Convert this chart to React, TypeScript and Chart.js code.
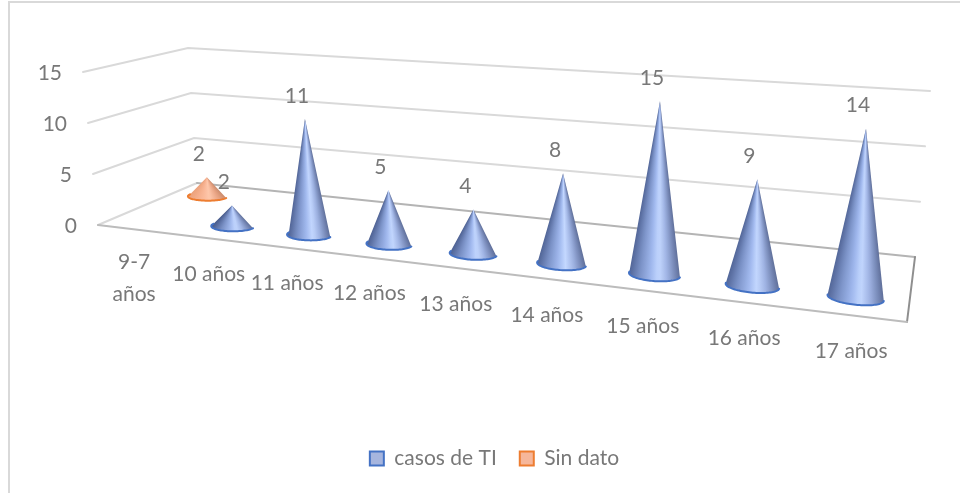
import React, { useEffect, useRef } from "react";
import { Chart, registerables } from "chart.js";

Chart.register(...registerables);

const categories: (string | string[])[] = ["9-7 años".split(" "), "10 años", "11 años", "12 años", "13 años", "14 años", "15 años", "16 años", "17 años"];
const casosDeTI: (number | null)[] = [null, 2, 11, 5, 4, 8, 15, 9, 14];
const sinDato: (number | null)[] = [2, null, null, null, null, null, null, null, null];
const yTicks = [0, 5, 10, 15];

const FONT = "Lato, Carlito, Calibri, sans-serif";
const TEXT = "#787878";
const SIZE = 21;

type P = [number, number];
// Camera of the 3D box: floor corners and the screen vector of the full value axis at each corner.
const floorQuad: P[] = [[98, 225], [907, 322], [915, 257], [197, 183]];
const riseVectors: P[] = [[-15, -153], [12, -189], [15, -166], [-9, -135]];

function homography(q: P[]) {
  const [[x0, y0], [x1, y1], [x2, y2], [x3, y3]] = q;
  const dx1 = x1 - x2, dx2 = x3 - x2, sx = x0 - x1 + x2 - x3;
  const dy1 = y1 - y2, dy2 = y3 - y2, sy = y0 - y1 + y2 - y3;
  const den = dx1 * dy2 - dx2 * dy1;
  const g = (sx * dy2 - dx2 * sy) / den;
  const h = (dx1 * sy - sx * dy1) / den;
  const a = x1 - x0 + g * x1, b = x3 - x0 + h * x3;
  const d = y1 - y0 + g * y1, e = y3 - y0 + h * y3;
  return (u: number, v: number): P => {
    const w = g * u + h * v + 1;
    return [(a * u + b * v + x0) / w, (d * u + e * v + y0) / w];
  };
}
const floorH = homography(floorQuad);
function project(u: number, depth: number, height: number): P {
  const f = floorH(u, depth);
  const [a, b, c, d] = riseVectors;
  const mix = (k: 0 | 1) => (a[k] * (1 - u) + b[k] * u) * (1 - depth) + (d[k] * (1 - u) + c[k] * u) * depth;
  return [f[0] + mix(0) * height, f[1] + mix(1) * height];
}

const DEPTH = [0.25, 0.75];
const RADIUS_DEPTH = 0.1;
type Stop = [number, number, number, number];
const RAMPS: Stop[][] = [
  [[0, 84, 104, 154], [0.2, 124, 147, 200], [0.42, 160, 184, 238], [0.58, 196, 216, 255], [0.75, 160, 180, 228], [0.92, 116, 134, 180], [1, 96, 112, 154]],
  [[0, 238, 165, 128], [0.3, 249, 182, 150], [0.55, 254, 200, 172], [0.8, 234, 165, 133], [1, 204, 140, 110]],
];
const RIM = ["#4472c4", "#ed7d31"];

function ramp(stops: Stop[], s: number) {
  for (let i = 1; i < stops.length; i++) {
    if (s <= stops[i][0]) {
      const a = stops[i - 1], b = stops[i];
      const t = (s - a[0]) / (b[0] - a[0]);
      const c = [1, 2, 3].map((k) => Math.round(a[k] + (b[k] - a[k]) * t));
      return `rgb(${c[0]},${c[1]},${c[2]})`;
    }
  }
  const l = stops[stops.length - 1];
  return `rgb(${l[1]},${l[2]},${l[3]})`;
}

function line(ctx: CanvasRenderingContext2D, pts: P[], color: string, width: number) {
  ctx.beginPath();
  pts.forEach((p, i) => (i ? ctx.lineTo(p[0], p[1]) : ctx.moveTo(p[0], p[1])));
  ctx.strokeStyle = color;
  ctx.lineWidth = width;
  ctx.stroke();
}

const frame = {
  id: "frame",
  beforeDraw(chart: any) {
    const { ctx, width, height } = chart;
    ctx.save();
    ctx.fillStyle = "#ffffff";
    ctx.fillRect(0, 0, width, height);
    ctx.strokeStyle = "#d9d9d9";
    ctx.lineWidth = 2;
    ctx.beginPath();
    ctx.moveTo(9, height);
    ctx.lineTo(9, 2);
    ctx.lineTo(width, 2);
    ctx.stroke();
    ctx.restore();
    // Tick labels stay the scales' own, moved onto the slanted edges of the box.
    const { x, y } = chart.scales;
    const area = chart.chartArea;
    const lh = x.options.ticks.font.lineHeight * SIZE;
    x.getLabelItems(area).forEach((item: any, i: number) => {
      const p = project((x.getPixelForTick(i) - area.left) / area.width, 0, 0);
      item.options.translation = [p[0], p[1] + 36 - lh / 2 - (Array.isArray(item.label) ? 3 : 0)];
    });
    y.getLabelItems(area).forEach((item: any, i: number) => {
      const h = (area.bottom - y.getPixelForTick(i)) / area.height;
      const p = project(0, 0, h);
      item.options.translation = [p[0] - 21, p[1] + 1];
    });
  },
};

const cones = {
  id: "cones",
  beforeDatasetsDraw(chart: any) {
    const { ctx, chartArea: area } = chart;
    const yScale = chart.scales.y;
    ctx.save();
    ctx.lineCap = "round";
    // walls
    yScale.ticks.forEach((t: any) => {
      const h = (area.bottom - yScale.getPixelForValue(t.value)) / area.height;
      if (h === 0) return;
      line(ctx, [project(0, 0, h), project(0, 1, h), project(1, 1, h)], "#d9d9d9", 2);
    });
    // floor
    line(ctx, [project(0, 0, 0), project(0, 1, 0)], "#d9d9d9", 2);
    line(ctx, [project(0, 1, 0), project(1, 1, 0)], "#b4b4b4", 2);
    line(ctx, [project(1, 1, 0), project(1, 0, 0)], "#8f8f8f", 2);
    line(ctx, [project(1, 0, 0), project(0, 0, 0)], "#bcbcbc", 2);

    const labels: { text: string; x: number; y: number }[] = [];
    for (let ds = chart.data.datasets.length - 1; ds >= 0; ds--) {
      const meta = chart.getDatasetMeta(ds);
      const depth = DEPTH[ds];
      meta.data.forEach((bar: any, i: number) => {
        const value = chart.data.datasets[ds].data[i];
        if (value == null) return;
        const u = (bar.x - area.left) / area.width;
        const ru = bar.width / 2 / area.width;
        const h = (area.bottom - bar.y) / area.height;
        const apex = project(u, depth, h);
        const N = 48;
        const rim: P[] = [];
        for (let k = 0; k <= N; k++) {
          const t = Math.PI + (Math.PI * k) / N;
          rim.push(project(u + ru * Math.cos(t), depth + RADIUS_DEPTH * Math.sin(t), 0));
        }
        const minX = rim[0][0], maxX = rim[N][0];
        const grad = ctx.createConicGradient(0, apex[0], apex[1]);
        for (let k = 0; k <= N; k += 2) {
          const angle = Math.atan2(rim[k][1] - apex[1], rim[k][0] - apex[0]);
          const offset = (angle < 0 ? angle + 2 * Math.PI : angle) / (2 * Math.PI);
          grad.addColorStop(Math.min(1, offset), ramp(RAMPS[ds], (rim[k][0] - minX) / (maxX - minX)));
        }
        ctx.beginPath();
        ctx.moveTo(apex[0], apex[1]);
        rim.forEach((p) => ctx.lineTo(p[0], p[1]));
        ctx.closePath();
        ctx.fillStyle = grad;
        ctx.fill();
        line(ctx, rim, RIM[ds], 2);
        labels.push({ text: String(value), x: apex[0] - 8, y: apex[1] - 23 });
      });
    }
    ctx.fillStyle = TEXT;
    ctx.font = `${SIZE}px ${FONT}`;
    ctx.textAlign = "center";
    ctx.textBaseline = "middle";
    labels.forEach((l) => ctx.fillText(l.text, l.x, l.y));
    ctx.restore();
    return false;
  },
};

export default function App() {
  const ref = useRef<HTMLCanvasElement>(null);
  useEffect(() => {
    document.body.style.margin = "0";
    const chart = new Chart(ref.current!, {
      type: "bar",
      data: {
        labels: categories as any,
        datasets: [
          { label: "casos de TI", data: casosDeTI, backgroundColor: "#a6b5de", borderColor: "#4472c4", borderWidth: 2 },
          { label: "Sin dato", data: sinDato, backgroundColor: "#f6b79b", borderColor: "#ed7d31", borderWidth: 2 },
        ],
      },
      options: {
        animation: false,
        responsive: false,
        devicePixelRatio: 1,
        layout: { padding: { left: 37, right: 8, top: 60, bottom: 14 } },
        datasets: { bar: { barPercentage: 1, categoryPercentage: 0.53 } },
        plugins: {
          tooltip: { enabled: false },
          legend: {
            position: "bottom",
            labels: { font: { family: FONT, size: SIZE }, color: TEXT, boxWidth: 14, boxHeight: 14, padding: 23 },
          },
        },
        scales: {
          x: {
            stacked: true,
            grid: { display: false },
            border: { display: false },
            ticks: { font: { family: FONT, size: SIZE, lineHeight: 1.5 }, color: TEXT, autoSkip: false, maxRotation: 0, minRotation: 0 },
            afterFit: (s: any) => { s.height = 190; },
          },
          y: {
            min: yTicks[0],
            max: yTicks[yTicks.length - 1],
            grid: { display: false },
            border: { display: false },
            ticks: { font: { family: FONT, size: SIZE }, color: TEXT, stepSize: 5 },
            afterFit: (s: any) => { s.width = 60; },
          },
        },
      },
      plugins: [frame, cones],
    } as any);
    return () => chart.destroy();
  }, []);
  return <canvas ref={ref} width={960} height={493} style={{ display: "block", width: 960, height: 493 }} />;
}
